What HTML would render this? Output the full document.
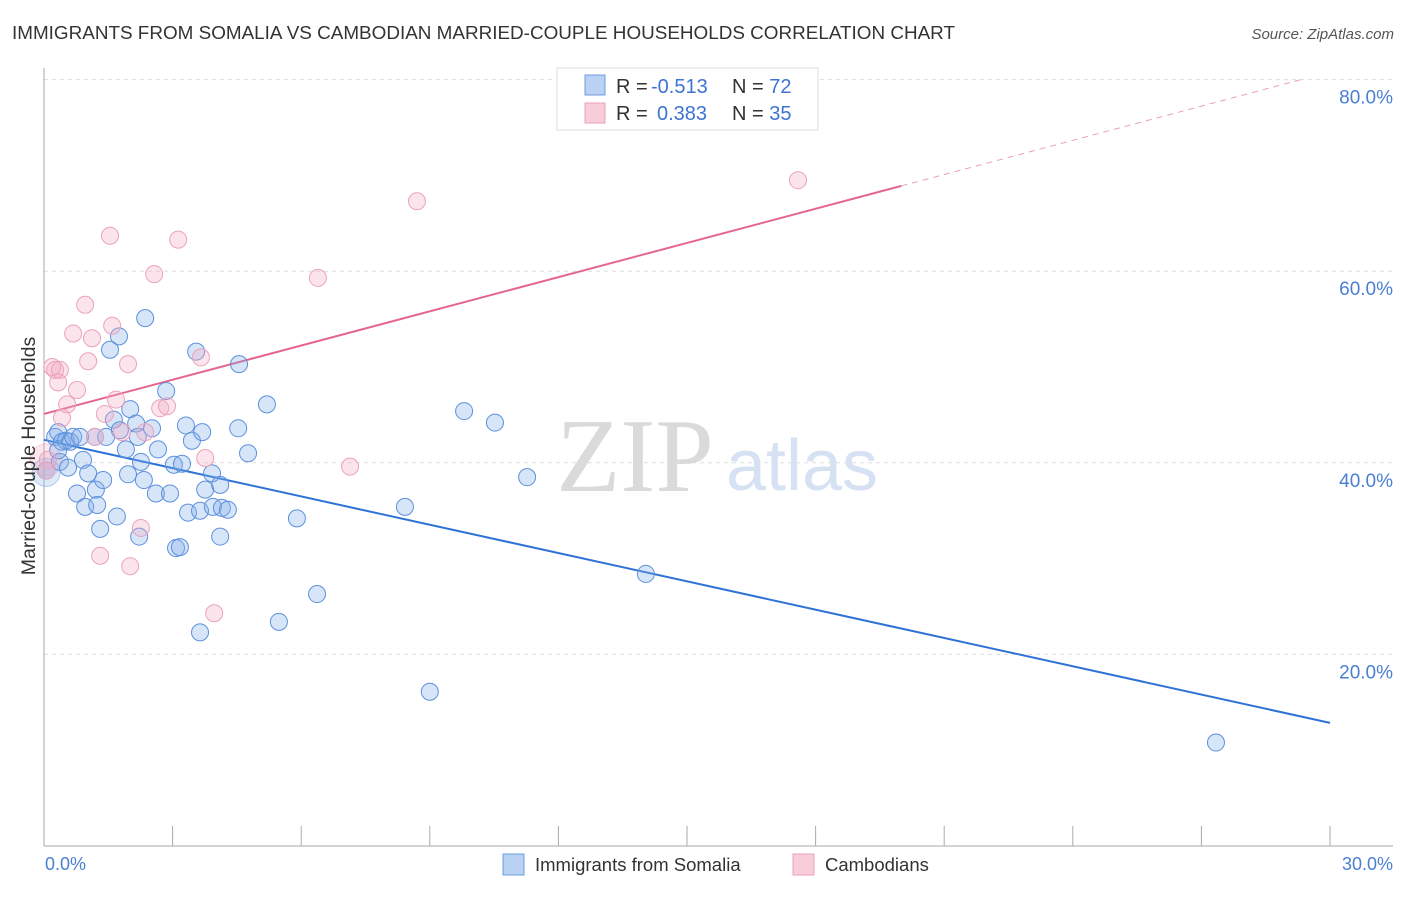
<!DOCTYPE html>
<html><head><meta charset="utf-8"><style>
body{margin:0;background:#fff;font-family:"Liberation Sans",sans-serif;}
svg text{font-family:"Liberation Sans",sans-serif;}
</style></head><body>
<svg id="c" width="1406" height="892" xmlns="http://www.w3.org/2000/svg">
<text x="12" y="39" font-size="18" fill="#333" textLength="943" lengthAdjust="spacingAndGlyphs">IMMIGRANTS FROM SOMALIA VS CAMBODIAN MARRIED-COUPLE HOUSEHOLDS CORRELATION CHART</text>
<text x="1394" y="39" font-size="15" fill="#555" font-style="italic" text-anchor="end">Source: ZipAtlas.com</text>
<g>
<text x="635" y="491" font-size="105" fill="#d4d4d4" text-anchor="middle" style="font-family:'Liberation Serif',serif" opacity="0.85">ZIP</text>
<text x="802" y="490" font-size="72" fill="#c9d9f0" text-anchor="middle" opacity="0.75">atlas</text>
</g>
<g id="grid"></g>
<g id="axes"></g>
<g id="trend"></g>
<g id="pts"></g>
<text x="35" y="456" font-size="19.5" fill="#333" text-anchor="middle" transform="rotate(-90 35 456)">Married-couple Households</text>
<text x="45" y="870" font-size="18" fill="#4a7fd4">0.0%</text>
<text x="1393" y="870" font-size="18" fill="#4a7fd4" text-anchor="end">30.0%</text>
<g>
<rect x="557" y="68" width="261" height="62" fill="#fff" stroke="#ddd"/>
<rect x="585" y="75" width="20" height="20" fill="#b9d1f3" stroke="#6d9ce0"/>
<rect x="585" y="103" width="20" height="20" fill="#f9ccd9" stroke="#eaa1b8"/>
<text x="616" y="93" font-size="20" fill="#333">R = <tspan fill="#3d74d4" x="651">-0.513</tspan><tspan x="732">N = </tspan><tspan fill="#3d74d4">72</tspan></text>
<text x="616" y="120" font-size="20" fill="#333">R = <tspan fill="#3d74d4" x="657">0.383</tspan><tspan x="732">N = </tspan><tspan fill="#3d74d4">35</tspan></text>
</g>
<g>
<rect x="503" y="854" width="21" height="21" fill="#b9d1f3" stroke="#6d9ce0"/>
<text x="535" y="871" font-size="18.5" fill="#333">Immigrants from Somalia</text>
<rect x="793" y="854" width="21" height="21" fill="#f9ccd9" stroke="#eaa1b8"/>
<text x="825" y="871" font-size="18.5" fill="#333">Cambodians</text>
</g>
</svg>
<script>
const yTicks=[20,40,60,80];
const yTickLabels=["20.0%","40.0%","60.0%","80.0%"];
const xTicks=[0,3,6,9,12,15,18,21,24,27,30];
const blueX=[0.26,0.33,0.42,0.51,0.61,0.68,0.37,0.56,0.91,0.77,0.96,1.21,1.24,1.38,1.03,1.31,1.70,1.54,1.75,2.36,2.01,2.15,1.63,1.77,1.45,1.91,1.96,2.26,2.33,2.52,2.61,2.66,2.85,2.94,3.03,3.08,3.17,3.22,3.31,3.36,3.45,3.55,3.64,3.69,3.76,3.92,3.94,4.11,4.15,4.29,4.11,3.64,4.53,4.55,4.76,5.20,5.48,5.90,6.37,8.42,9.00,9.80,10.52,11.27,14.04,27.34,0.05,2.22,2.19,1.19,0.84,0.33];
const blueY=[42.7,43.2,42.2,42.3,42.2,42.7,40.1,39.5,40.3,36.8,35.4,37.2,35.6,38.2,38.9,33.1,34.4,51.8,53.2,55.1,45.6,44.1,44.5,43.4,42.7,41.4,38.8,40.1,38.2,43.6,36.8,41.4,47.5,36.8,39.8,31.1,31.2,39.9,43.9,34.8,42.3,51.6,35.0,43.2,37.2,38.9,35.4,37.7,35.3,35.1,32.3,22.3,43.6,50.3,41.0,46.1,23.4,34.2,26.3,35.4,16.1,45.4,44.2,38.5,28.4,10.8,39.2,32.3,42.7,42.7,42.7,41.3];
const pinkX=[0.19,0.26,0.37,0.33,0.54,0.68,0.77,0.96,1.03,1.12,1.19,1.31,1.42,1.54,1.59,1.68,1.82,1.96,2.01,2.26,2.36,2.57,2.71,2.87,3.13,3.66,3.76,3.97,6.39,7.14,8.70,17.59,0.09,0.42,0.05];
const pinkY=[50.0,49.7,49.7,48.4,46.1,53.5,47.6,56.5,50.6,53.0,42.7,30.3,45.1,63.7,54.3,46.6,43.2,50.3,29.2,33.2,43.2,59.7,45.7,45.9,63.3,51.0,40.5,24.3,59.3,39.6,67.3,69.5,40.3,44.7,39.2];
const blueTrend=[42.4,-0.985];
const pinkTrend=[45.1,1.19];
const pinkSolidEnd=20;
const X0=44,X1=1330,Y0=846,YS=191.6/20;
const sx=v=>X0+(X1-X0)*v/30, sy=v=>Y0-v*YS;
const NS="http://www.w3.org/2000/svg";
function mk(t,a,p){const e=document.createElementNS(NS,t);for(const k in a)e.setAttribute(k,a[k]);p.appendChild(e);return e;}
const grid=document.getElementById('grid'),axes=document.getElementById('axes'),trend=document.getElementById('trend'),pts=document.getElementById('pts');
yTicks.forEach((t,i)=>{
 const l=mk('line',{x1:X0,x2:1393,y1:sy(t),y2:sy(t),stroke:'#ddd','stroke-dasharray':'4,4'},grid);
 
 
 const tx=mk('text',{x:1393,y:sy(t)+24,'font-size':19,fill:'#4a7fd4','text-anchor':'end'},grid);
 tx.textContent=yTickLabels[i];
 
 
});
mk('line',{x1:X0,x2:X0,y1:68,y2:Y0,stroke:'#aaa'},axes);
mk('line',{x1:X0,x2:1393,y1:Y0,y2:Y0,stroke:'#aaa'},axes);
xTicks.forEach(t=>{
 const l=mk('line',{x1:sx(t),x2:sx(t),y1:Y0-20,y2:Y0,stroke:'#aaa'},axes);
 
 
});
mk('circle',{cx:sx(0.05),cy:sy(40.3),r:16,fill:'rgba(240,160,185,0.25)',stroke:'rgba(233,160,184,0.4)'},pts);
mk('circle',{cx:sx(0.05),cy:sy(39.0),r:14,fill:'rgba(120,170,230,0.25)',stroke:'rgba(91,143,217,0.4)'},pts);
blueX.forEach((x,i)=>{
 const c=mk('circle',{cx:sx(x),cy:sy(blueY[i]),r:8.5,fill:'rgba(130,175,232,0.32)',stroke:'#5d90dc','stroke-width':1},pts);
 
 
});
pinkX.forEach((x,i)=>{
 const c=mk('circle',{cx:sx(x),cy:sy(pinkY[i]),r:8.5,fill:'rgba(244,170,195,0.32)',stroke:'#eba3ba','stroke-width':1},pts);
 
 
});
const bl=mk('line',{x1:sx(0),y1:sy(blueTrend[0]),x2:sx(30),y2:sy(blueTrend[0]+blueTrend[1]*30),stroke:'#2f72d6','stroke-width':2},trend);


const pl=mk('line',{x1:sx(0),y1:sy(pinkTrend[0]),x2:sx(pinkSolidEnd),y2:sy(pinkTrend[0]+pinkTrend[1]*pinkSolidEnd),stroke:'#e4668f','stroke-width':2},trend);


const xe=(80-pinkTrend[0])/pinkTrend[1];
const pd=mk('line',{x1:sx(pinkSolidEnd),y1:sy(pinkTrend[0]+pinkTrend[1]*pinkSolidEnd),x2:sx(xe),y2:sy(80),stroke:'#e9a0b5','stroke-width':1,'stroke-dasharray':'6,5'},trend);


</script>
</body></html>
